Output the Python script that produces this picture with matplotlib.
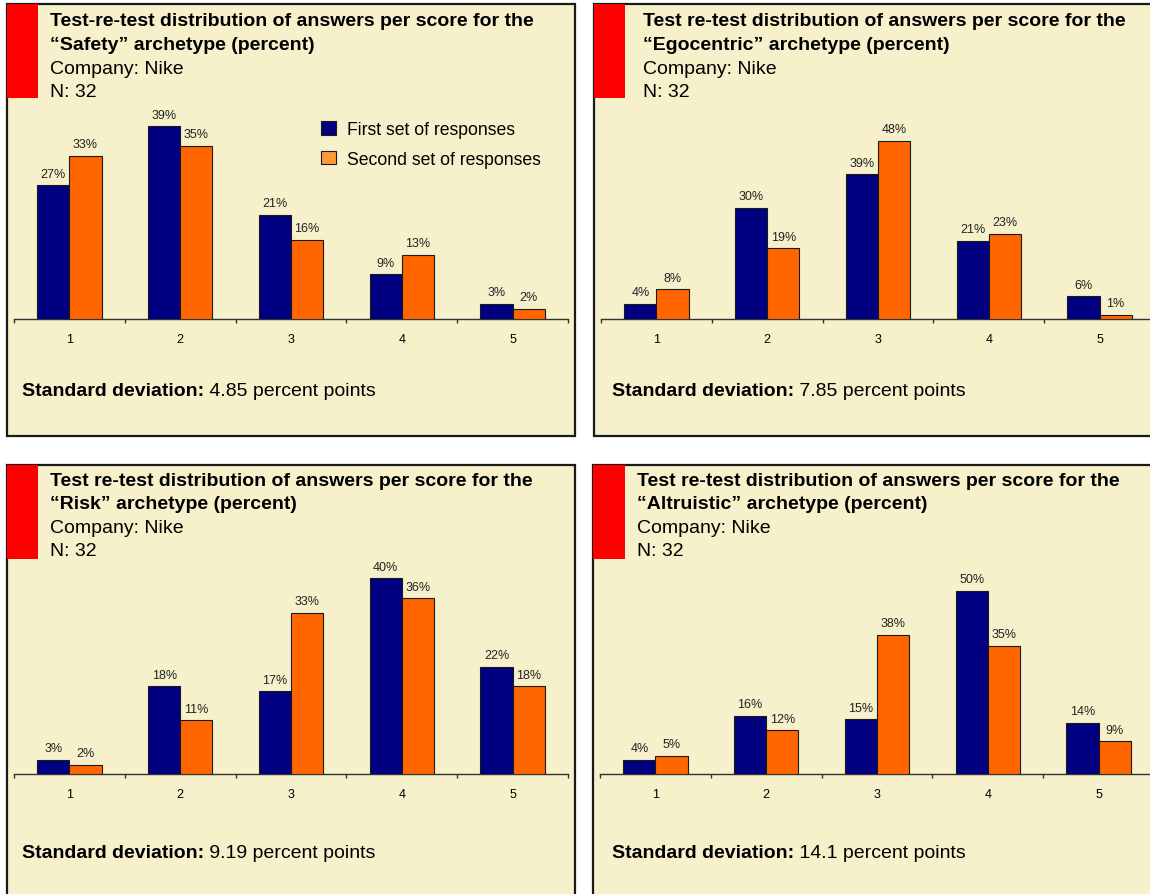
import matplotlib
matplotlib.use("Agg")
import matplotlib.pyplot as plt
from matplotlib.patches import Rectangle, Patch

plt.rcParams['font.family'] = ['Liberation Sans', 'DejaVu Sans']

# ---------------- data ----------------
scores = [1, 2, 3, 4, 5]
series_names = ["First set of responses", "Second set of responses"]

safety_first = [27, 39, 21, 9, 3]
safety_second = [33, 35, 16, 13, 2]
egocentric_first = [4, 30, 39, 21, 6]
egocentric_second = [8, 19, 48, 23, 1]
risk_first = [3, 18, 17, 40, 22]
risk_second = [2, 11, 33, 36, 18]
altruistic_first = [4, 16, 15, 50, 14]
altruistic_second = [5, 12, 38, 35, 9]

titles = [
    "Test-re-test distribution of answers per score for the\n\u201cSafety\u201d archetype (percent)",
    "Test re-test distribution of answers per score for the\n\u201cEgocentric\u201d archetype (percent)",
    "Test re-test distribution of answers per score for the\n\u201cRisk\u201d archetype (percent)",
    "Test re-test distribution of answers per score for the\n\u201cAltruistic\u201d archetype (percent)",
]
company = "Company: Nike"
n_text = "N: 32"
std_values = ["4.85", "7.85", "9.19", "14.1"]
y_max = [45, 60, 45, 60]

BLUE = "#000080"
ORANGE = "#FF6600"
ORANGE_LEG = "#FF9933"
BG = "#F6F0CB"
RED = "#FF0000"

W, H = 1150, 895
fig = plt.figure(figsize=(W / 100, H / 100), dpi=100)
fig.patch.set_facecolor("white")

# background canvas in pixel coords
bg = fig.add_axes([0, 0, 1, 1])
bg.set_xlim(0, W)
bg.set_ylim(H, 0)
bg.axis("off")

panels = [
    dict(box=(7, 5, 568, 432), red=(7, 5, 31, 94), tx=50, ty=[21.7, 45.3, 69, 92.5],
         sx=22, sy=391.7, plot=(14, 97.5, 554, 222.2)),
    dict(box=(594, 5, 600, 432), red=(594, 5, 31, 94), tx=643, ty=[21.7, 45.3, 69, 92.5],
         sx=612, sy=391.7, plot=(601, 97.5, 554, 222.2)),
    dict(box=(7, 466, 568, 440), red=(7, 466, 31, 94), tx=50, ty=[481.7, 504.8, 528.3, 551.7],
         sx=22, sy=853.3, plot=(14, 555, 554, 220.3)),
    dict(box=(593, 466, 600, 440), red=(593, 466, 32, 94), tx=637, ty=[481.7, 504.8, 528.3, 551.7],
         sx=612, sy=853.3, plot=(600, 555, 554, 220.3)),
]

data = [
    (safety_first, safety_second),
    (egocentric_first, egocentric_second),
    (risk_first, risk_second),
    (altruistic_first, altruistic_second),
]

bw = 0.29
for i, p in enumerate(panels):
    x, y, w, h = p["box"]
    bg.add_patch(Rectangle((x, y), w, h, facecolor=BG, edgecolor="#1a1a1a", linewidth=1.6, zorder=1))
    rx, ry, rw, rh = p["red"]
    bg.add_patch(Rectangle((rx, ry), rw, rh, facecolor=RED, edgecolor="none", zorder=2))
    t1, t2 = titles[i].split("\n")
    bg.text(p["tx"], p["ty"][0], t1, fontsize=14, fontweight="bold", va="center", ha="left", zorder=3)
    bg.text(p["tx"], p["ty"][1], t2, fontsize=14, fontweight="bold", va="center", ha="left", zorder=3)
    bg.text(p["tx"], p["ty"][2], company, fontsize=14, va="center", ha="left", zorder=3)
    bg.text(p["tx"], p["ty"][3], n_text, fontsize=14, va="center", ha="left", zorder=3)
    t = bg.text(p["sx"], p["sy"], "Standard deviation:", fontsize=14, fontweight="bold",
                va="center", ha="left", zorder=3)
    bg.annotate(" " + std_values[i] + " percent points", xy=(1, 0.5), xycoords=t,
                fontsize=14, va="center", ha="left", zorder=3)

    px, py, pw, ph = p["plot"]
    ax = fig.add_axes([px / W, 1 - (py + ph) / H, pw / W, ph / H])
    ax.patch.set_alpha(0)
    first, second = data[i]
    xs = list(range(len(scores)))
    b1 = ax.bar([v - bw / 2 for v in xs], first, width=bw, color=BLUE, edgecolor="#1a1a1a",
                linewidth=0.8, zorder=3)
    b2 = ax.bar([v + bw / 2 for v in xs], second, width=bw, color=ORANGE, edgecolor="#1a1a1a",
                linewidth=0.8, zorder=3)
    for bars, vals in ((b1, first), (b2, second)):
        for bar, v in zip(bars, vals):
            ax.annotate(f"{v}%", xy=(bar.get_x() + bar.get_width() / 2, bar.get_height()),
                        xytext=(0, 4), textcoords="offset points", ha="center", va="bottom",
                        fontsize=9, color="#222222")
    ax.set_xlim(-0.5, len(scores) - 0.5)
    ax.set_ylim(0, y_max[i])
    ax.set_xticks([v - 0.5 for v in range(len(scores) + 1)])
    ax.set_xticklabels([])
    ax.set_xticks(xs, minor=True)
    ax.set_xticklabels([str(s) for s in scores], minor=True, fontsize=9)
    ax.tick_params(axis="x", which="major", length=3, width=1, color="#333333", direction="out")
    ax.tick_params(axis="x", which="minor", length=0, pad=10)
    ax.set_yticks([])
    for s in ("top", "left", "right"):
        ax.spines[s].set_visible(False)
    ax.spines["bottom"].set_color("#333333")
    ax.spines["bottom"].set_linewidth(1)

    if i == 0:
        handles = [Patch(facecolor=BLUE, edgecolor="#1a1a1a", linewidth=0.8),
                   Patch(facecolor=ORANGE_LEG, edgecolor="#1a1a1a", linewidth=0.8)]
        fig.legend(handles, series_names, loc="upper left",
                   bbox_to_anchor=(321 / W, 1 - 122 / H), frameon=False, fontsize=12.7,
                   handlelength=0.85, handleheight=0.8, handletextpad=0.6,
                   labelspacing=0.72, borderpad=0, borderaxespad=0)

fig.savefig("out.png", dpi=100, facecolor="white")
